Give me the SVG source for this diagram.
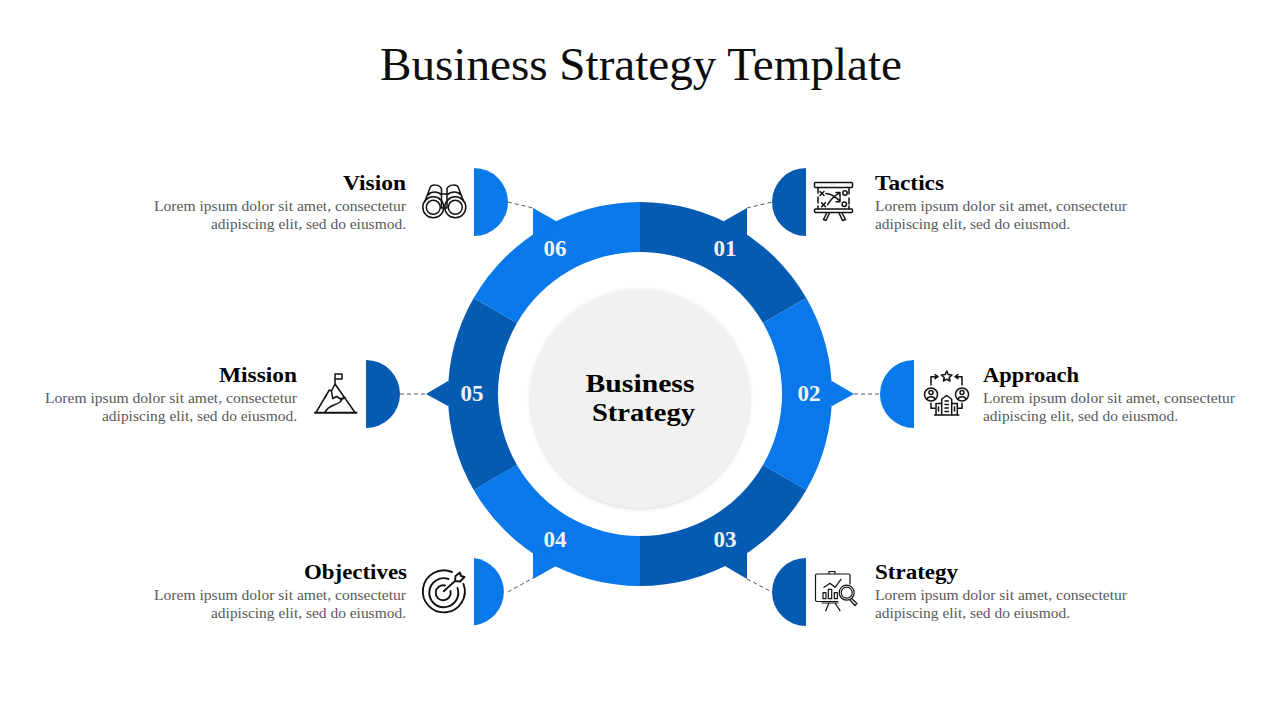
<svg xmlns="http://www.w3.org/2000/svg" width="1280" height="720" viewBox="0 0 1280 720">
<style>
text{font-family:"Liberation Serif","Times New Roman",serif}
.title{font-size:47px;fill:#0d0d0d}
.head{font-size:20px;font-weight:bold;fill:#000}
.body{font-size:15.5px;fill:#595959}
.num{font-size:23px;font-weight:bold;fill:#f2f2f2;text-anchor:middle}
.center{font-size:26px;font-weight:bold;fill:#000}
.r{text-anchor:end}
.dark{fill:#055bb2}
.light{fill:#0878ea}
.dash{stroke:#555;stroke-width:1;stroke-dasharray:4 3;fill:none}
.ic{fill:none;stroke:#111;stroke-width:1.5;stroke-linecap:round;stroke-linejoin:round}
.thin{stroke-width:1.2}
.thick{stroke-width:1.9}
</style>
<defs>
<filter id="soft" x="-10%" y="-10%" width="120%" height="120%"><feDropShadow dx="0" dy="1" stdDeviation="2" flood-color="#000" flood-opacity="0.18"/></filter>
</defs>
<text class="title" x="380" y="80" textLength="522" lengthAdjust="spacingAndGlyphs">Business Strategy Template</text>
<g id="connectors">
<path class="dash" d="M747 208L772 202"/>
<path class="dash" d="M854 394H880"/>
<path class="dash" d="M747 579L772 592"/>
<path class="dash" d="M508 592L533 578"/>
<path class="dash" d="M400 394H426"/>
<path class="dash" d="M508 202L533 208"/>
</g>
<g id="hub"><circle cx="640" cy="398.500" r="109" fill="#f1f1f1" filter="url(#soft)"/>
<text class="center" x="640" y="392" text-anchor="middle" textLength="109" lengthAdjust="spacingAndGlyphs">Business</text>
<text class="center" x="592" y="421" textLength="103" lengthAdjust="spacingAndGlyphs">Strategy</text></g>
<g id="node-01">
<path class="dark" d="M640 202A192 192 0 0 1 806.300 298L763 323A142 142 0 0 0 640 252Z"/>
<path class="dark" d="M724 221L747 208V235L735 240Z"/>
<path class="dark" d="M806 168A34 34 0 0 0 806 236Z"/>
<text class="num" x="725" y="256">01</text>
<g class="ic"><rect x="814.500" y="182.500" width="38" height="5" rx="1"/><rect x="814.500" y="209" width="38" height="3.500" rx="1"/><path d="M818 188V193M818 197V203M818 206V209M849 188V194M849 198V204M849 206V209M826.700 213L823.500 219.500L826 220.500L829.500 213M839 213L842.500 220.500L845.500 219.500L842 213M820 191.500L824 195.500M824 191.500L820 195.500M821.500 202.700L825.500 206.700M825.500 202.700L821.500 206.700M826 193.500C831 194 836 197 840 201.500M840 197.500V201.700H836M827.700 204.500C831 199 835 195.500 840 192.700M836 192.500H840V196.500"/><circle cx="845" cy="193" r="2.200"/><circle cx="844.300" cy="204.300" r="2.200"/></g>
<text class="head" x="875" y="190" textLength="69" lengthAdjust="spacingAndGlyphs">Tactics</text>
<text class="body" x="875" y="211" textLength="252" lengthAdjust="spacingAndGlyphs">Lorem ipsum dolor sit amet, consectetur</text>
<text class="body" x="875" y="229" textLength="195" lengthAdjust="spacingAndGlyphs">adipiscing elit, sed do eiusmod.</text>
</g>
<g id="node-02">
<path class="light" d="M806.300 298A192 192 0 0 1 806.300 490L763 465A142 142 0 0 0 763 323Z"/>
<path class="light" d="M832 381L854 394L832 406L825 394Z"/>
<path class="light" d="M914 360A34 34 0 0 0 914 428Z"/>
<text class="num" x="809" y="401">02</text>
<g class="ic"><path d="M946.700 371L948.200 374.500L952 375L949.200 377.500L950 381L946.700 379.200L943.400 381L944.200 377.500L941.400 375L945.200 374.500Z"/><circle cx="931" cy="394.500" r="6.500"/><circle cx="962" cy="394.500" r="6.500"/><circle cx="931" cy="392.500" r="2"/><circle cx="962" cy="392.500" r="2"/><path d="M927 399C928 396 934 396 935 399M958 399C959 396 965 396 966 399M931 385V376.700H938M935 374.700L938 376.700L935 378.700M962 385V376.700H955M958 374.700L955 376.700L958 378.700M936 415V403.500H941.700M951.700 403.500H957.300V415M934.500 415H958.800M941.700 415V399L946.700 395.500L951.700 399V415M931 403.300V408.300H934.500M962 403.300V408.300H958.500M945 401H948.400M945 404.500H948.400M945 408H948.400M945 411.500H948.400M938.500 407V411M954.500 407V411"/></g>
<text class="head" x="983" y="382" textLength="96" lengthAdjust="spacingAndGlyphs">Approach</text>
<text class="body" x="983" y="403" textLength="252" lengthAdjust="spacingAndGlyphs">Lorem ipsum dolor sit amet, consectetur</text>
<text class="body" x="983" y="421" textLength="195" lengthAdjust="spacingAndGlyphs">adipiscing elit, sed do eiusmod.</text>
</g>
<g id="node-03">
<path class="dark" d="M806.300 490A192 192 0 0 1 640 586V536A142 142 0 0 0 763 465Z"/>
<path class="dark" d="M747 553V579L725 566L735 548Z"/>
<path class="dark" d="M806 558A34 34 0 0 0 806 626Z"/>
<text class="num" x="725" y="547">03</text>
<g class="ic thin"><path d="M838 601.500H817C816 601.500 815.500 601 815.500 600V575C815.500 574.500 816 574 817 574H849C849.700 574 850 574.500 850 575V584M829 574V571.500H835V574M822 603H838M829 603L825.700 610.700M835 603L840 610.700M824 587.300L830 583.300L835 587.300L841 579.300M823 598.700V592.700H826V598.700ZM828.300 598.700V589.300H831.700V598.700ZM834.300 598.700V592.700H837.300V598.700Z"/><circle cx="846.700" cy="592.700" r="7.500"/><circle cx="846.700" cy="592.700" r="5.500"/><path d="M851.500 598.500L857 603.500L855 605.500L850 600"/></g>
<text class="head" x="875" y="579" textLength="83" lengthAdjust="spacingAndGlyphs">Strategy</text>
<text class="body" x="875" y="600" textLength="252" lengthAdjust="spacingAndGlyphs">Lorem ipsum dolor sit amet, consectetur</text>
<text class="body" x="875" y="618" textLength="195" lengthAdjust="spacingAndGlyphs">adipiscing elit, sed do eiusmod.</text>
</g>
<g id="node-04">
<path class="light" d="M640 586A192 192 0 0 1 473.700 490L517 465A142 142 0 0 0 640 536Z"/>
<path class="light" d="M533 552.500V579L556 566L545 548Z"/>
<path class="light" d="M474 558A34 34 0 0 1 474 625.500Z"/>
<text class="num" x="555" y="547">04</text>
<g class="ic thick"><path d="M452 572A21 21 0 1 0 463.500 584M448.500 579A14.500 14.500 0 1 0 457.500 588M445 585.500A7.500 7.500 0 1 0 450.500 591"/><path d="M443.700 591.200L455 581M455 581L455.500 576L460 572.500L461 576L464.500 577L460 581.500Z"/></g>
<text class="head r" x="407" y="579" textLength="103" lengthAdjust="spacingAndGlyphs">Objectives</text>
<text class="body r" x="406" y="600" textLength="252" lengthAdjust="spacingAndGlyphs">Lorem ipsum dolor sit amet, consectetur</text>
<text class="body r" x="406" y="618" textLength="195" lengthAdjust="spacingAndGlyphs">adipiscing elit, sed do eiusmod.</text>
</g>
<g id="node-05">
<path class="dark" d="M473.700 490A192 192 0 0 1 473.700 298L517 323A142 142 0 0 0 517 465Z"/>
<path class="dark" d="M448 381L426 394L448 406L455 394Z"/>
<path class="dark" d="M366 360A34 34 0 0 1 366 428Z"/>
<text class="num" x="472" y="401">05</text>
<g class="ic"><path d="M315 412.700H356.500" stroke-width="2"/><path d="M316 412.500L329.300 390L331.500 391L335 384L355 412.500M335 384V374H342V379H335M331.500 391L332.700 398.500L336.500 396.500L340.500 399L345 397.300M325 398L329.300 390M325 412.500C328 405 335 406 340 402C342 399 343 398 345 397.300"/></g>
<text class="head r" x="297" y="382" textLength="78" lengthAdjust="spacingAndGlyphs">Mission</text>
<text class="body r" x="297" y="403" textLength="252" lengthAdjust="spacingAndGlyphs">Lorem ipsum dolor sit amet, consectetur</text>
<text class="body r" x="297" y="421" textLength="195" lengthAdjust="spacingAndGlyphs">adipiscing elit, sed do eiusmod.</text>
</g>
<g id="node-06">
<path class="light" d="M473.700 298A192 192 0 0 1 640 202V252A142 142 0 0 0 517 323Z"/>
<path class="light" d="M533 208L556 221L545 240L533 235Z"/>
<path class="light" d="M474 168A34 34 0 0 1 474 236Z"/>
<text class="num" x="555" y="256">06</text>
<g class="ic"><circle cx="433.300" cy="207.300" r="10.500"/><circle cx="433.300" cy="207.300" r="7"/><circle cx="455.300" cy="207.300" r="10.500"/><circle cx="455.300" cy="207.300" r="7"/><path d="M425 201L430 188C431 184 440 184 441.500 189V208M463.500 201L458.500 188C457.500 184 448.500 184 447 189V208M441.500 194H447M441.500 208H447M428 195C431 191 438 191 441.500 195M447 195C451 191 458 191 461 195"/></g>
<text class="head r" x="406" y="190" textLength="63" lengthAdjust="spacingAndGlyphs">Vision</text>
<text class="body r" x="406" y="211" textLength="252" lengthAdjust="spacingAndGlyphs">Lorem ipsum dolor sit amet, consectetur</text>
<text class="body r" x="406" y="229" textLength="195" lengthAdjust="spacingAndGlyphs">adipiscing elit, sed do eiusmod.</text>
</g>
</svg>
